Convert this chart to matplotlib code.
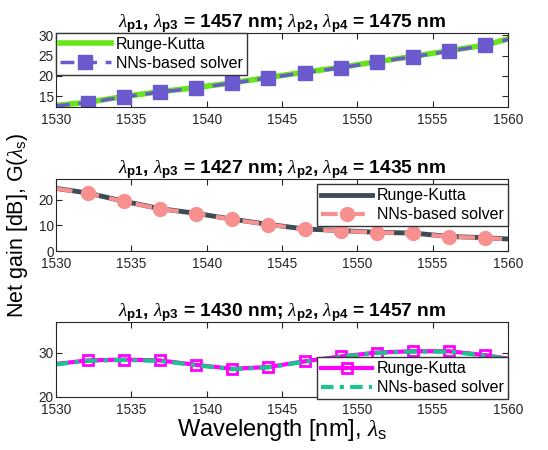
import numpy as np
import matplotlib.pyplot as plt

plt.rcParams['font.family'] = ['Liberation Sans', 'DejaVu Sans']
plt.rcParams['mathtext.fontset'] = 'custom'
plt.rcParams['mathtext.rm'] = 'Liberation Sans'
plt.rcParams['mathtext.bf'] = 'Liberation Sans:bold'
plt.rcParams['mathtext.it'] = 'Liberation Serif:italic'

# wavelength grid (line) and marker positions
wl = [1530, 1532.1, 1534.5, 1536.9, 1539.3, 1541.7, 1544.1, 1546.5,
      1548.9, 1551.3, 1553.7, 1556.1, 1558.5, 1560]

# panel 1: pumps 1457 / 1475 nm
rk1 = [12.7, 13.5, 14.9, 16.1, 17.1, 18.3, 19.6, 20.9, 22.1, 23.5, 24.8, 26.2, 27.6, 29.1]
nn1 = [12.6, 13.4, 14.8, 16.0, 17.0, 18.2, 19.5, 20.8, 22.0, 23.4, 24.7, 26.1, 27.5, 29.0]

# panel 2: pumps 1427 / 1435 nm
rk2 = [24.4, 22.6, 19.4, 16.5, 14.7, 12.4, 10.4, 8.6, 8.0, 7.3, 7.0, 5.7, 5.2, 4.7]
nn2 = [24.3, 22.5, 19.3, 16.4, 14.6, 12.3, 10.3, 8.5, 7.9, 7.2, 6.9, 5.6, 5.1, 4.6]

# panel 3: pumps 1430 / 1457 nm
rk3 = [27.5, 28.3, 28.5, 28.3, 27.3, 26.4, 26.8, 28.1, 29.2, 30.1, 30.4, 30.4, 29.5, 28.7]
nn3 = [27.4, 28.2, 28.4, 28.2, 27.2, 26.3, 26.7, 28.0, 29.1, 30.0, 30.3, 30.3, 29.4, 28.6]

titles = [
    r'$\lambda_{\mathbf{p1}}$, $\lambda_{\mathbf{p3}}$ = 1457 nm; $\lambda_{\mathbf{p2}}$, $\lambda_{\mathbf{p4}}$ = 1475 nm',
    r'$\lambda_{\mathbf{p1}}$, $\lambda_{\mathbf{p3}}$ = 1427 nm; $\lambda_{\mathbf{p2}}$, $\lambda_{\mathbf{p4}}$ = 1435 nm',
    r'$\lambda_{\mathbf{p1}}$, $\lambda_{\mathbf{p3}}$ = 1430 nm; $\lambda_{\mathbf{p2}}$, $\lambda_{\mathbf{p4}}$ = 1457 nm',
]

fig = plt.figure(figsize=(5.48, 4.5), dpi=100)
ax1 = fig.add_axes([0.102, 0.762, 0.825, 0.165])
ax2 = fig.add_axes([0.102, 0.442, 0.825, 0.160])
ax3 = fig.add_axes([0.102, 0.118, 0.825, 0.166])

wl = np.array(wl)
mk = list(range(1, 13))

leg_kw = dict(fontsize=11.5, frameon=True, fancybox=False, edgecolor='#333333',
              framealpha=1, handlelength=3.2, borderpad=0.25, labelspacing=0.25,
              handletextpad=0.3, borderaxespad=0)

# panel 1
ax1.plot(wl, rk1, color='#66e619', lw=4, label='Runge-Kutta')
ax1.plot(wl, nn1, color='#6a5acd', lw=2.5, ls=(0, (4, 2.5)), marker='s', ms=10,
         markevery=mk, label='NNs-based solver')
ax1.set_ylim(12.3, 30.6)
ax1.set_yticks([15, 20, 25, 30])
ax1.legend(loc='upper left', bbox_to_anchor=(0.0, 1.0), **leg_kw)

# panel 2
ax2.plot(wl, rk2, color='#3d4b57', lw=3.5, label='Runge-Kutta')
ax2.plot(wl, nn2, color='#f89090', lw=3, ls=(0, (4, 2.5)), marker='o', ms=10,
         markevery=mk, label='NNs-based solver')
ax2.set_ylim(0, 28)
ax2.set_yticks([0, 10, 20])
ax2.legend(loc='upper right', bbox_to_anchor=(1.0, 0.93), **leg_kw)

# panel 3
ax3.plot(wl, rk3, color='#ff00ff', lw=3, marker='s', ms=7.5, mfc='none', mew=2,
         markevery=mk, label='Runge-Kutta')
ax3.plot(wl, nn3, color='#1cc38e', lw=3, ls=(0, (3, 1.5, 1, 1.5)),
         label='NNs-based solver')
ax3.set_ylim(20, 37)
ax3.set_yticks([20, 30])
ax3.legend(loc='upper right', bbox_to_anchor=(1.0, 0.53), **leg_kw)

for ax, t in zip([ax1, ax2, ax3], titles):
    ax.set_xlim(1530, 1560)
    ax.set_xticks(np.arange(1530, 1561, 5))
    ax.tick_params(direction='in', top=True, right=True, labelsize=9.8,
                   length=4, width=0.8, colors='#262626')
    ax.tick_params(axis='x', pad=4.5)
    ax.tick_params(axis='y', pad=1.5)
    for s in ax.spines.values():
        s.set_color('#262626')
        s.set_linewidth(0.8)
    ax.set_title(t, fontsize=13.8, fontweight='bold', pad=4)

ax3.set_xlabel(r'Wavelength [nm], $\lambda_\mathrm{s}$', fontsize=17, labelpad=0)
fig.text(0.032, 0.5, r'Net gain [dB], G($\lambda_\mathrm{s}$)', fontsize=15.5,
         rotation=90, va='center', ha='center')

fig.savefig('out.png', dpi=100)
